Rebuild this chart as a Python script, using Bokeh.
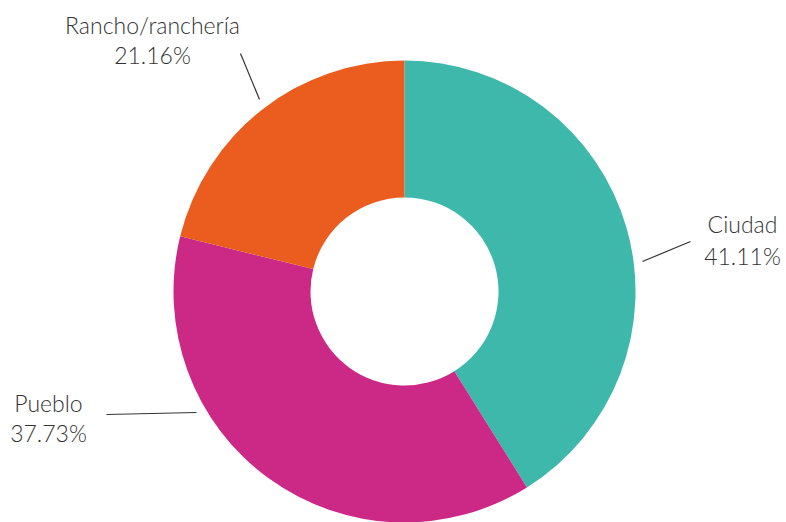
import numpy as np
from bokeh.plotting import figure
from bokeh.models import Range1d, ColumnDataSource
from bokeh.core.properties import value
from bokeh.embed import file_html
from bokeh.resources import INLINE

# Data
categories = ["Ciudad", "Pueblo", "Rancho/ranchería"]
percentages = [41.11, 37.73, 21.16]
pct_labels = ["41.11%", "37.73%", "21.16%"]
colors = ["#3DB8AA", "#CC2886", "#EB5D1E"]

W, H = 786, 522


def px(x):
    return x


def py(y):
    # picture y (down) -> data y (up)
    return H - y


p = figure(width=W, height=H, output_backend="svg", toolbar_location=None,
           x_range=Range1d(0, W), y_range=Range1d(0, H),
           min_border=0)
p.axis.visible = False
p.grid.visible = False
p.outline_line_color = None
p.background_fill_color = "white"
p.border_fill_color = "white"

vals = np.array(percentages, dtype=float)
frac = vals / vals.sum()
cum = np.concatenate([[0.0], np.cumsum(frac)])
start = np.pi / 2 - 2 * np.pi * cum[:-1]
end = np.pi / 2 - 2 * np.pi * cum[1:]

cx, cy = 404, 291
src = ColumnDataSource(dict(x=[px(cx)] * len(vals), y=[py(cy)] * len(vals),
                            start=start, end=end, color=colors))
p.annular_wedge(x="x", y="y", inner_radius=94, outer_radius=231,
                start_angle="start", end_angle="end", direction="clock",
                fill_color="color", line_color=None, source=src)

# Leader lines (picture coords) and label anchors
leaders = {
    "Ciudad": ((642, 261), (690, 241)),
    "Pueblo": ((106, 414), (196, 412)),
    "Rancho/ranchería": ((240, 53), (259, 99)),
}
anchors = {
    "Ciudad": (742, 223, 255),
    "Pueblo": (48, 402, 432),
    "Rancho/ranchería": (152, 24, 54),
}

font = value("Lato Light, Lato")
for cat, lab in zip(categories, pct_labels):
    (x0, y0), (x1, y1) = leaders[cat]
    p.segment(x0=[px(x0)], y0=[py(y0)], x1=[px(x1)], y1=[py(y1)],
              line_color="#333333", line_width=1.2)
    ax, ay1, ay2 = anchors[cat]
    p.text(x=[px(ax), px(ax)], y=[py(ay1), py(ay2)], text=[cat, lab],
           text_align="center", text_baseline="middle",
           text_font=font, text_font_size="23px", text_color="#333333")

open("out.html", "w").write(file_html(p, INLINE))
